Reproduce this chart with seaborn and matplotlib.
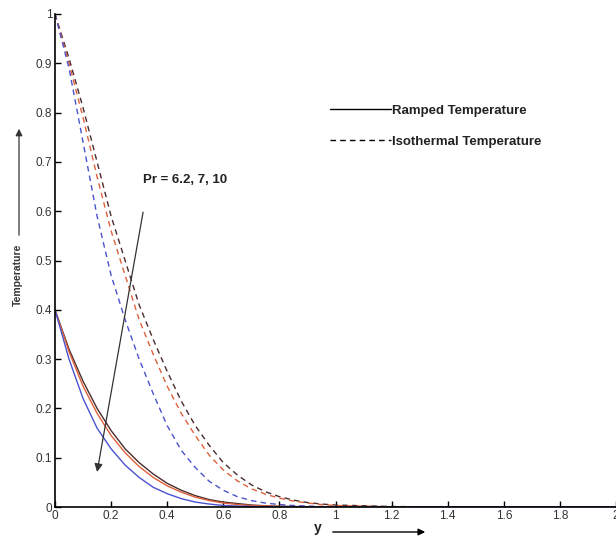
import numpy as np
import pandas as pd
import matplotlib
matplotlib.use("Agg")
import matplotlib.pyplot as plt
import seaborn as sns
from matplotlib.lines import Line2D

# ---- data ----
y_vals = [0.0, 0.05, 0.1, 0.15, 0.2, 0.25, 0.3, 0.35, 0.4, 0.45, 0.5,
          0.55, 0.6, 0.65, 0.7, 0.75, 0.8, 0.85, 0.9, 0.95, 1.0,
          1.2, 1.4, 1.6, 1.8, 2.0]
pr_values = ["6.2", "7", "10"]

ramped_pr62 = [0.4, 0.32, 0.255, 0.2, 0.155, 0.118, 0.09, 0.067, 0.048, 0.034, 0.023,
               0.015, 0.01, 0.007, 0.004, 0.0025, 0.0015, 0.001, 0.0005, 0, 0,
               0, 0, 0, 0, 0]
ramped_pr7 = [0.4, 0.315, 0.245, 0.19, 0.145, 0.11, 0.082, 0.06, 0.043, 0.03, 0.02,
              0.013, 0.008, 0.005, 0.003, 0.002, 0.001, 0.0005, 0, 0, 0,
              0, 0, 0, 0, 0]
ramped_pr10 = [0.4, 0.30, 0.22, 0.16, 0.118, 0.085, 0.06, 0.04, 0.027, 0.017, 0.01,
               0.006, 0.003, 0.002, 0.001, 0.0005, 0, 0, 0, 0, 0,
               0, 0, 0, 0, 0]
iso_pr62 = [1.0, 0.91, 0.81, 0.70, 0.59, 0.50, 0.41, 0.34, 0.275, 0.215, 0.165,
            0.125, 0.09, 0.065, 0.045, 0.031, 0.021, 0.014, 0.009, 0.006, 0.004,
            0.001, 0, 0, 0, 0]
iso_pr7 = [1.0, 0.90, 0.79, 0.67, 0.56, 0.47, 0.38, 0.31, 0.245, 0.19, 0.145,
           0.105, 0.075, 0.053, 0.037, 0.026, 0.018, 0.012, 0.008, 0.005, 0.003,
           0.0005, 0, 0, 0, 0]
iso_pr10 = [1.0, 0.89, 0.74, 0.59, 0.47, 0.38, 0.30, 0.23, 0.165, 0.115, 0.08,
            0.052, 0.034, 0.021, 0.013, 0.008, 0.005, 0.003, 0.002, 0.001, 0.0005,
            0, 0, 0, 0, 0]

x_ticks = [0, 0.2, 0.4, 0.6, 0.8, 1, 1.2, 1.4, 1.6, 1.8, 2]
x_ticklabels = ["0", "0.2", "0.4", "0.6", "0.8", "1", "1.2", "1.4", "1.6", "1.8", "2"]
y_ticks = [0, 0.1, 0.2, 0.3, 0.4, 0.5, 0.6, 0.7, 0.8, 0.9, 1]
y_ticklabels = ["0", "0.1", "0.2", "0.3", "0.4", "0.5", "0.6", "0.7", "0.8", "0.9", "1"]

series = {
    ("Ramped", "6.2"): ramped_pr62, ("Ramped", "7"): ramped_pr7, ("Ramped", "10"): ramped_pr10,
    ("Isothermal", "6.2"): iso_pr62, ("Isothermal", "7"): iso_pr7, ("Isothermal", "10"): iso_pr10,
}
rows = []
for (kind, pr), vals in series.items():
    for yv, tv in zip(y_vals, vals):
        rows.append({"y": yv, "T": tv, "Pr": pr, "kind": kind})
df = pd.DataFrame(rows)

# ---- style ----
sns.set_theme(style="white")
plt.rcParams["font.family"] = ["Liberation Sans", "DejaVu Sans"]

fig = plt.figure(figsize=(6.16, 5.48), dpi=100)
ax = fig.add_axes([55 / 616, 1 - 507 / 548, 561 / 616, 493 / 548])

palette = {"6.2": "#4a2c2c", "7": "#e0603a", "10": "#4a52d0"}
for kind, dash in [("Isothermal", (4, 3)), ("Ramped", "")]:
    for pr in pr_values:
        sub = df[(df["kind"] == kind) & (df["Pr"] == pr)]
        sns.lineplot(data=sub, x="y", y="T", ax=ax, color=palette[pr], lw=1.0,
                     legend=False, estimator=None, sort=False)
        if dash:
            ax.lines[-1].set_dashes(dash)

ax.set_xlim(0, 2)
ax.set_ylim(0, 1)
ax.set_xticks(x_ticks)
ax.set_xticklabels(x_ticklabels)
ax.set_yticks(y_ticks)
ax.set_yticklabels(y_ticklabels)
ax.set_xlabel("")
ax.set_ylabel("")
for s in ["top", "right"]:
    ax.spines[s].set_visible(False)
for s in ["left", "bottom"]:
    ax.spines[s].set_color("black")
    ax.spines[s].set_linewidth(1.2)
ax.tick_params(direction="in", length=4, width=1, colors="black",
               labelsize=8.5, labelcolor="#333333", pad=2, left=True, bottom=True)

# legend
handles = [Line2D([], [], color="black", lw=1.0, ls="-"),
           Line2D([], [], color="black", lw=1.0, ls=(0, (4, 3)))]
leg = ax.legend(handles, ["Ramped Temperature", "Isothermal Temperature"],
                loc="upper left", bbox_to_anchor=((318 - 55) / 561, 1 - (93 - 14) / 493),
                frameon=False, handlelength=4.6, handletextpad=0.1,
                labelspacing=1.4, prop={"size": 9.5, "weight": "bold"})
for t in leg.get_texts():
    t.set_color("#222222")

# Pr annotation and arrow
ax.text(0.314, 0.663, "Pr = 6.2, 7, 10", fontsize=9.5, fontweight="bold",
        color="#222222", va="center", ha="left")
ax.annotate("", xy=(0.15, 0.071), xytext=(0.314, 0.598),
            arrowprops=dict(arrowstyle="-|>", color="#333333", lw=0.9,
                            mutation_scale=12, shrinkA=0, shrinkB=0))

# axis labels with arrows (figure pixel coordinates)
fig.text(318 / 616, 1 - 528 / 548, "y", fontsize=10, fontweight="bold",
         ha="center", va="center", color="#222222")
fig.patches.append(matplotlib.patches.FancyArrowPatch(
    (330 / 616, 1 - 532 / 548), (428 / 616, 1 - 532 / 548),
    transform=fig.transFigure, arrowstyle="-|>", mutation_scale=10,
    color="black", lw=1.0))
fig.text(18 / 616, 1 - 275 / 548, "Temperature", fontsize=7.5, fontweight="bold",
         rotation=90, ha="center", va="center", color="#333333")
fig.patches.append(matplotlib.patches.FancyArrowPatch(
    (19 / 616, 1 - 238 / 548), (19 / 616, 1 - 126 / 548),
    transform=fig.transFigure, arrowstyle="-|>", mutation_scale=10,
    color="#333333", lw=0.9))

fig.savefig("out.png", dpi=100)
